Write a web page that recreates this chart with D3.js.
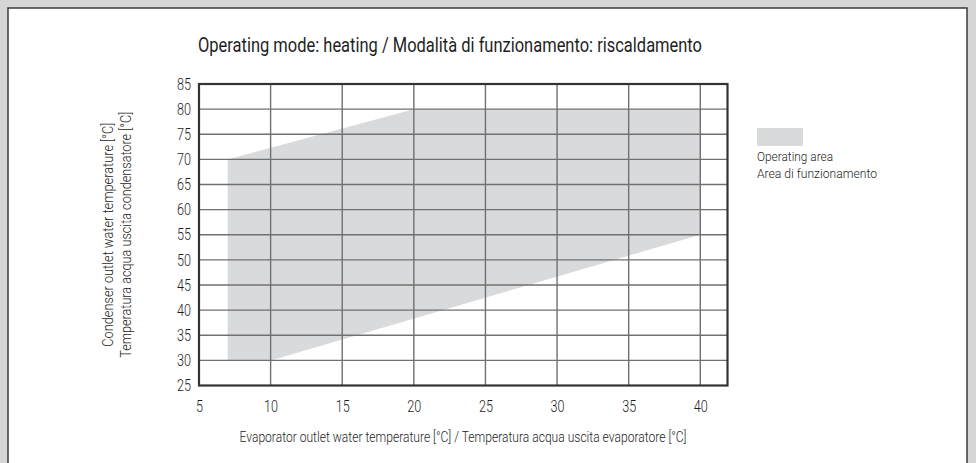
<!DOCTYPE html>
<html>
<head>
<meta charset="utf-8">
<script src="https://cdn.jsdelivr.net/npm/d3@7"></script>
<style>
  html, body { margin: 0; padding: 0; background: #d6d6d6; }
  svg { display: block; }
  text { font-family: "Roboto", "DejaVu Sans Condensed", sans-serif; font-weight: 300; fill: #1e1e1e; }
</style>
</head>
<body>
<svg id="chart" width="976" height="463"></svg>
<script>
// ---- data ----
const titleText = "Operating mode: heating / Modalità di funzionamento: riscaldamento";
const xLabel = "Evaporator outlet water temperature [°C] / Temperatura acqua uscita evaporatore [°C]";
const yLabelLines = ["Condenser outlet water temperature [°C]", "Temperatura acqua uscita condensatore [°C]"];
const xTicks = [5, 10, 15, 20, 25, 30, 35, 40];
const yTicks = [25, 30, 35, 40, 45, 50, 55, 60, 65, 70, 75, 80, 85];
const xDomain = [5, 41.9];
const yDomain = [25, 85];
// operating envelope (evaporator outlet, condenser outlet)
const areaX = [7, 7, 20, 40, 40, 10];
const areaY = [30, 70, 80, 80, 55, 30];
const legendLabels = ["Operating area", "Area di funzionamento"];

// ---- layout ----
const svg = d3.select("#chart");
const L = 199, R = 727.5, T = 84, B = 385.5;
const x = d3.scaleLinear().domain(xDomain).range([L, R]);
const y = d3.scaleLinear().domain(yDomain).range([B, T]);
const FF = '"Roboto", "DejaVu Sans Condensed", sans-serif';

// background panel
svg.append("rect").attr("x", 0).attr("y", 0).attr("width", 976).attr("height", 463).attr("fill", "#d6d6d6");
svg.append("rect").attr("x", 8).attr("y", 8).attr("width", 959).attr("height", 470)
  .attr("fill", "#fff").attr("stroke", "#3a3a3a").attr("stroke-width", 1.5);

// operating area
const pts = areaX.map((v, i) => [x(v), y(areaY[i])]);
svg.append("path").attr("d", d3.line()(pts) + "Z").attr("fill", "#d9dadc");

// grid
const g = svg.append("g");
g.selectAll("line.v").data(xTicks.filter(d => d > xDomain[0])).enter().append("line")
  .attr("x1", d => x(d)).attr("x2", d => x(d)).attr("y1", T).attr("y2", B)
  .attr("stroke", "#707070").attr("stroke-width", 1.4);
g.selectAll("line.h").data(yTicks.filter(d => d > yDomain[0] && d < yDomain[1])).enter().append("line")
  .attr("x1", L).attr("x2", R).attr("y1", d => y(d)).attr("y2", d => y(d))
  .attr("stroke", "#707070").attr("stroke-width", 1.4);

// frame
svg.append("rect").attr("x", L).attr("y", T).attr("width", R - L).attr("height", B - T)
  .attr("fill", "none").attr("stroke", "#333").attr("stroke-width", 2.2);

// axes (labels only)
const xAxis = d3.axisBottom(x).tickValues(xTicks).tickSize(0).tickPadding(15);
const xg = svg.append("g").attr("transform", `translate(0,${B})`).call(xAxis);
xg.select(".domain").remove();
xg.selectAll("text").attr("font-size", 16).style("font-family", FF).style("font-weight", 300).attr("fill", "#1e1e1e")
  .attr("textLength", d => String(d).length * 7).attr("lengthAdjust", "spacingAndGlyphs");

const yAxis = d3.axisLeft(y).tickValues(yTicks).tickSize(0).tickPadding(8);
const yg = svg.append("g").attr("transform", `translate(${L},0)`).call(yAxis);
yg.select(".domain").remove();
yg.selectAll("text").attr("font-size", 16).style("font-family", FF).style("font-weight", 300).attr("fill", "#1e1e1e")
  .attr("textLength", d => String(d).length * 7).attr("lengthAdjust", "spacingAndGlyphs");

// title
svg.append("text").attr("x", 450).attr("y", 52).attr("text-anchor", "middle")
  .attr("font-size", 20).style("font-weight", 400).attr("textLength", 504).attr("lengthAdjust", "spacingAndGlyphs")
  .text(titleText);

// x label
svg.append("text").attr("x", 463).attr("y", 442).attr("text-anchor", "middle")
  .attr("font-size", 15).attr("textLength", 447).attr("lengthAdjust", "spacingAndGlyphs")
  .text(xLabel);

// y label
const ylens = [224, 246];
yLabelLines.forEach((t, i) => {
  svg.append("text").attr("transform", `translate(${113 + i * 18},${(T + B) / 2}) rotate(-90)`)
    .attr("text-anchor", "middle").attr("font-size", 15)
    .attr("textLength", ylens[i]).attr("lengthAdjust", "spacingAndGlyphs")
    .text(t);
});

// legend
svg.append("rect").attr("x", 757).attr("y", 128).attr("width", 46).attr("height", 18).attr("fill", "#d9dadc");
const legLens = [76, 120];
legendLabels.forEach((t, i) => {
  svg.append("text").attr("x", 757).attr("y", 161 + i * 16.5).attr("font-size", 13.5)
    .attr("textLength", legLens[i]).attr("lengthAdjust", "spacingAndGlyphs").text(t);
});
</script>
</body>
</html>
